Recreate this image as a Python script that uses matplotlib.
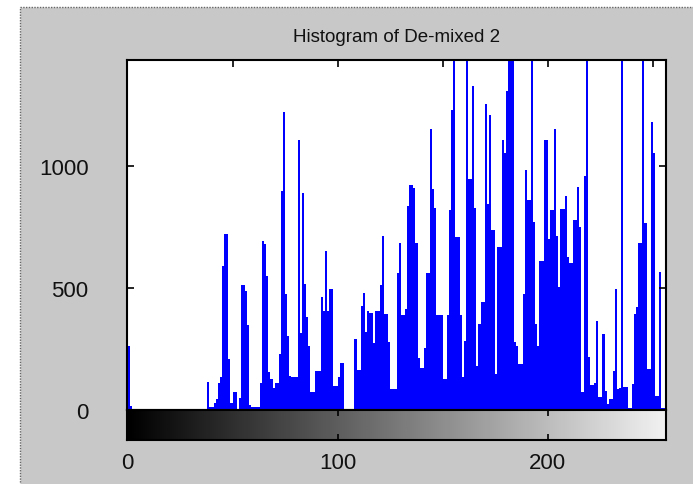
import numpy as np
import matplotlib.pyplot as plt
from matplotlib.patches import Rectangle

plt.rcParams['font.family'] = ['Liberation Sans', 'DejaVu Sans']

title = 'Histogram of De-mixed 2'

# grey level 0..255 and pixel count for each level
levels = np.arange(256)
counts = [
    260, 18, 4, 6, 6, 6, 6, 6, 6, 6, 6, 6, 6, 6, 6, 6,
    6, 6, 6, 6, 6, 6, 6, 6, 6, 6, 6, 6, 6, 6, 6, 6,
    6, 6, 6, 6, 6, 6, 116, 14, 14, 30, 45, 110, 135, 590,
    720, 720, 210, 27, 72, 72, 4, 49, 512, 512, 486, 350, 20, 14, 14, 14,
    14, 109, 690, 680, 548, 154, 127, 89, 109, 109, 230, 896, 1220, 473, 305, 141,
    134, 134, 134, 1107, 314, 888, 516, 380, 260, 72, 72, 161, 161, 161, 464, 407,
    653, 407, 495, 495, 100, 100, 137, 191, 191, 0, 0, 0, 0, 0, 291, 164,
    164, 425, 478, 321, 404, 396, 396, 273, 404, 404, 510, 712, 391, 391, 280, 86,
    86, 86, 561, 683, 387, 387, 414, 837, 922, 922, 908, 683, 212, 171, 171, 253,
    561, 561, 1152, 903, 827, 387, 387, 387, 127, 127, 387, 820, 1227, 1500, 708, 708,
    387, 134, 284, 1500, 947, 947, 1325, 826, 182, 352, 441, 441, 1251, 844, 1206, 735,
    735, 148, 669, 669, 1107, 1052, 1306, 1500, 1500, 1500, 277, 264, 189, 189, 475, 981,
    858, 858, 1500, 769, 352, 264, 612, 612, 1104, 1104, 702, 820, 820, 1152, 714, 503,
    824, 824, 878, 626, 601, 601, 776, 776, 913, 749, 72, 956, 1500, 216, 104, 104,
    109, 366, 52, 52, 311, 79, 25, 45, 45, 161, 496, 86, 89, 1500, 93, 93,
    7, 7, 107, 393, 421, 683, 683, 1500, 765, 168, 168, 1180, 1053, 59, 59, 564,
    9, 9,
]

hist_xticks = [0, 50, 100, 150, 200, 250]
yticks = [0, 500, 1000]
bar_xticks = [0, 100, 200]

W, H = 693, 485
fig = plt.figure(figsize=(W / 100, H / 100), dpi=100, facecolor='white')

# grey window area with the dotted selection frame
fig.patches.append(Rectangle((20 / W, -0.01), 1.0, 1 - 8 / H + 0.01,
                             transform=fig.transFigure, facecolor='#c8c8c8',
                             edgecolor='#666666', linestyle=(0, (1, 1)),
                             linewidth=1, zorder=-10))

# histogram axes
ax = fig.add_axes([127.5 / W, 74 / H, 538 / W, 350.5 / H])
ax.bar(levels, counts, width=1, align='edge', color='#0000ff', linewidth=0)
ax.set_xlim(0, 256)
ax.set_ylim(0, 1435)
ax.set_facecolor('white')
ax.set_xticks(hist_xticks)
ax.set_xticklabels([])
ax.set_yticks(yticks)
ax.set_yticklabels([str(t) for t in yticks], fontsize=16, color='#111111')
ax.tick_params(direction='in', length=5, width=1.2, top=True, right=True,
               bottom=False, pad=28)
for s in ax.spines.values():
    s.set_linewidth(1.5)

fig.text(396.5 / W, 1 - 37 / H, title, ha='center', va='center',
         fontsize=13.5, color='#111111')

# grey-level colour bar under the histogram
cax = fig.add_axes([127.5 / W, 44 / H, 538 / W, 30 / H])
cax.imshow(np.linspace(0, 1, 256)[None, :], cmap='gray', aspect='auto',
           extent=[0, 256, 0, 1], vmin=0, vmax=1.06)
cax.set_xlim(0, 256)
cax.set_yticks([])
cax.set_xticks(bar_xticks)
cax.set_xticklabels([str(t) for t in bar_xticks], fontsize=16, color='#111111')
cax.tick_params(direction='in', length=4, width=1.2, top=True, pad=9)
for s in cax.spines.values():
    s.set_linewidth(1.5)

fig.savefig('out.png', dpi=100, facecolor=fig.get_facecolor())
